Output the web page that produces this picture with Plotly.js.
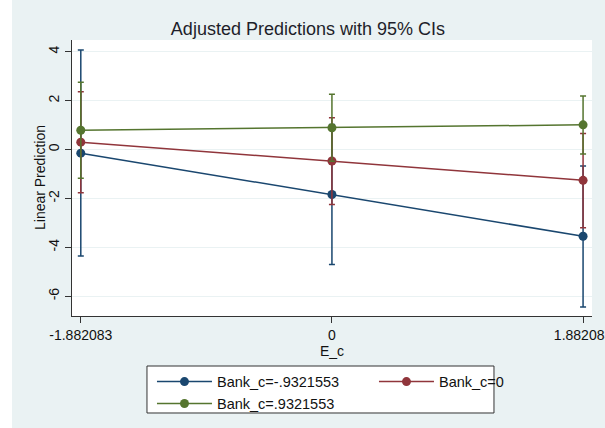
<!DOCTYPE html>
<html>
<head>
<meta charset="utf-8">
<script src="https://cdn.plot.ly/plotly-3.0.1.min.js"></script>
<style>html,body{margin:0;padding:0;background:#eaf2f3;}#chart{width:605px;height:428px;}</style>
</head>
<body>
<div id="chart"></div>
<script>
// E_c values (x positions)
const eValues = [-1.882083, 0, 1.882083];
const xTickLabels = ["-1.882083", "0", "1.882083"];
const yTickValues = [-6, -4, -2, 0, 2, 4];
const yTickLabels = ["-6", "-4", "-2", "0", "2", "4"];

const seriesNames = ["Bank_c=-.9321553", "Bank_c=0", "Bank_c=.9321553"];

// Linear predictions and 95% CI bounds
const predLow = [-0.15, -1.84, -3.55];
const lowerLow = [-4.36, -4.70, -6.44];
const upperLow = [4.07, 1.02, -0.67];

const predMid = [0.30, -0.47, -1.26];
const lowerMid = [-1.77, -2.25, -3.20];
const upperMid = [2.36, 1.30, 0.66];

const predHigh = [0.79, 0.89, 1.01];
const lowerHigh = [-1.18, -0.48, -0.18];
const upperHigh = [2.75, 2.26, 2.19];

const colors = ["#1a476f", "#90353b", "#55752f"];

function makeTrace(name, pred, lo, hi, color) {
  return {
    type: "scatter",
    mode: "lines+markers",
    name: name,
    x: eValues,
    y: pred,
    line: {color: color, width: 1.5},
    marker: {color: color, size: 9},
    error_y: {
      type: "data",
      symmetric: false,
      array: hi.map((v, i) => v - pred[i]),
      arrayminus: pred.map((v, i) => v - lo[i]),
      color: color,
      thickness: 1.5,
      width: 3
    }
  };
}

const traces = [
  makeTrace(seriesNames[0], predLow, lowerLow, upperLow, colors[0]),
  makeTrace(seriesNames[1], predMid, lowerMid, upperMid, colors[1]),
  makeTrace(seriesNames[2], predHigh, lowerHigh, upperHigh, colors[2])
];

const layout = {
  width: 605,
  height: 428,
  margin: {l: 72, r: 13, t: 40, b: 112, autoexpand: false},
  paper_bgcolor: "#eaf2f3",
  plot_bgcolor: "#ffffff",
  font: {family: "Liberation Sans, Arial, sans-serif", color: "#111", size: 14},
  title: {
    text: "Adjusted Predictions with 95% CIs",
    font: {size: 18, color: "#1e1e2a"},
    x: 0.509, xref: "container", xanchor: "center",
    y: 0.932, yref: "container", yanchor: "middle"
  },
  xaxis: {
    range: [-1.948, 1.949],
    tickmode: "array",
    tickvals: eValues,
    ticktext: xTickLabels,
    ticks: "outside",
    ticklen: 6,
    tickcolor: "#333",
    showline: true,
    linecolor: "#333",
    linewidth: 1,
    showgrid: false,
    zeroline: false,
    ticklabeloverflow: "allow",
    automargin: false,
    tickfont: {size: 14, color: "#111"},
    title: {text: "E_c", font: {size: 14, color: "#111"}, standoff: 4}
  },
  yaxis: {
    range: [-6.81, 4.48],
    tickmode: "array",
    tickvals: yTickValues,
    ticktext: yTickLabels,
    tickangle: -90,
    ticks: "outside",
    ticklen: 6,
    tickcolor: "#333",
    showline: true,
    linecolor: "#333",
    linewidth: 1,
    showgrid: true,
    gridcolor: "#eaf2f3",
    gridwidth: 1,
    zeroline: false,
    automargin: false,
    ticklabelstandoff: 0,
    tickfont: {size: 14, color: "#111"}
  },
  annotations: [
    {text: "Linear Prediction", xref: "paper", yref: "paper", x: -0.0615, y: 0.5,
     xanchor: "center", yanchor: "middle", textangle: -90, showarrow: false,
     font: {size: 14, color: "#111"}}
  ],
  showlegend: true,
  legend: {
    orientation: "h",
    x: 0.1538, xanchor: "left",
    y: -0.18, yanchor: "top",
    bgcolor: "rgba(0,0,0,0)",
    borderwidth: 0,
    itemwidth: 55,
    entrywidth: 152,
    font: {size: 14.5, color: "#111"},
    traceorder: "normal"
  },
  shapes: [
    {type: "rect", xref: "paper", yref: "paper", x0: 0.1442, x1: 0.8115, y0: -0.3514, y1: -0.1812,
     fillcolor: "#ffffff", line: {color: "#333", width: 1}, layer: "below"},
    {type: "rect", xref: "paper", yref: "paper", x0: -0.1385, x1: -0.1154, y0: -0.41, y1: 1.15,
     fillcolor: "#ffffff", line: {width: 0}, layer: "below"}
  ]
};

Plotly.newPlot("chart", traces, layout, {displayModeBar: false, staticPlot: true});
</script>
</body>
</html>
